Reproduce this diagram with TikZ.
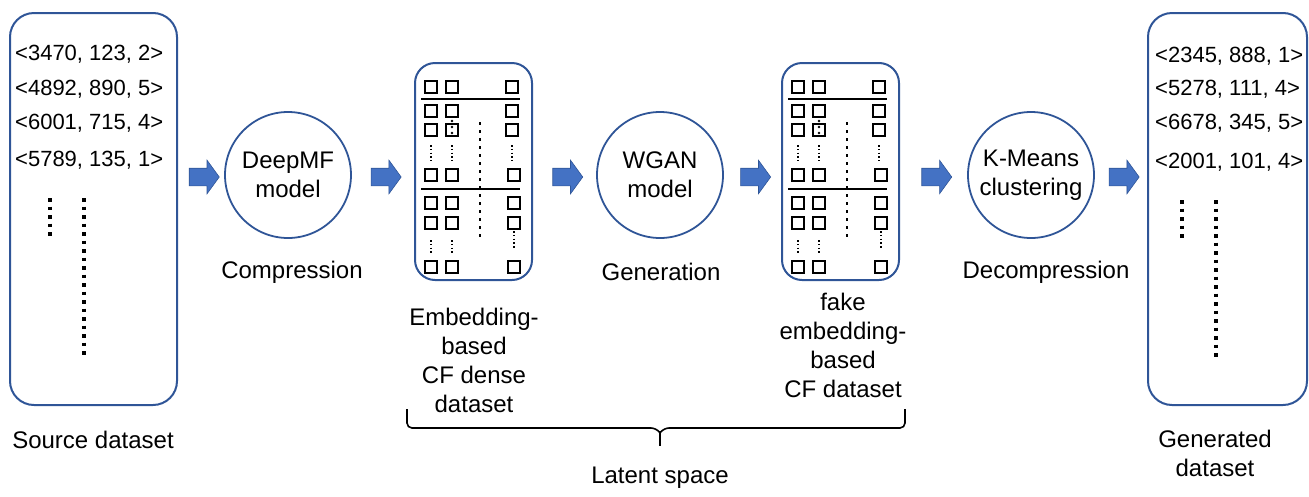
\documentclass[tikz,border=0pt]{standalone}
\usepackage{fontspec}
\setmainfont{Liberation Sans}
\usetikzlibrary{shapes.arrows,calc}
\definecolor{boxblue}{HTML}{2F5597}
\definecolor{arrblue}{HTML}{4472C4}
\tikzset{
  databox/.style={draw=boxblue, line width=2pt, rounded corners=24pt, inner sep=0pt},
  embbox/.style={draw=boxblue, line width=2pt, rounded corners=20pt, inner sep=0pt,
                 minimum width=117pt, minimum height=217pt},
  model/.style={circle, draw=boxblue, line width=1.8pt, minimum size=126pt, inner sep=0pt,
                align=center, font=\fontsize{24}{29}\selectfont},
  blockarrow/.style={single arrow, fill=arrblue, draw=boxblue, line width=0.6pt,
                minimum height=30pt, minimum width=0pt, inner xsep=0pt, inner ysep=8.5pt,
                single arrow head extend=8pt, single arrow tip angle=108},
  datatext/.style={anchor=west, inner sep=0pt, font=\fontsize{22}{26}\selectfont},
  lbl/.style={align=center, inner sep=0pt, font=\fontsize{24}{29}\selectfont},
  bigdots/.style={line width=3.5pt, dash pattern=on 3.5pt off 5pt},
  middots/.style={line width=2.8pt, dash pattern=on 2.8pt off 5.2pt},
  tinydots/.style={line width=1.5pt, dash pattern=on 1.5pt off 2.3pt},
  sqstyle/.style={draw=black, line width=1.7pt},
  hsep/.style={draw=black, line width=1.7pt}
}
\newcommand\mysq[2]{\draw[sqstyle] (#1,#2) ++(-6,-6) rectangle ++(12,12);}
\newcommand\embgrid[1]{%
  \begin{scope}[shift={(#1)}]
    \mysq{16}{24}\mysq{37}{24}\mysq{97}{24}
    \draw[hsep] (6,36) -- (105,36);
    \mysq{16}{48}\mysq{37}{48}\mysq{97}{48}
    \mysq{16}{67}\mysq{37}{67}\mysq{97}{67}
    \fill (37,58) circle (1.4pt);
    \fill (37,64) circle (1.3pt);
    \fill (37,70) circle (1.3pt);
    \draw[tinydots] (16,82) -- (16,98);
    \draw[tinydots] (37,82) -- (37,98);
    \draw[tinydots] (97,82) -- (97,98);
    \mysq{16}{112}\mysq{37}{112}\mysq{99}{112}
    \draw[hsep] (6,126) -- (105,126);
    \mysq{16}{140}\mysq{37}{140}\mysq{99}{140}
    \mysq{16}{160}\mysq{37}{160}\mysq{99}{160}
    \draw[tinydots] (16,177) -- (16,191);
    \draw[tinydots] (37,177) -- (37,191);
    \draw[tinydots] (99,168) -- (99,185);
    \mysq{16}{204}\mysq{37}{204}\mysq{99}{204}
    \draw[middots] (65,59) -- (65,177);
  \end{scope}}
\begin{document}
\begin{tikzpicture}[x=1pt,y=-1pt]
\useasboundingbox (0,0) rectangle (1309,496);
\coordinate (ay) at (0,177);

% source dataset
\node[databox, minimum width=167pt, minimum height=392pt] (src) at (93.5,209) {};
\node[datatext] (s1) at (15,54) {<3470, 123, 2>};
\node[datatext] (s2) at (15,89) {<4892, 890, 5>};
\node[datatext] (s3) at (15,123) {<6001, 715, 4>};
\node[datatext] (s4) at (15,160) {<5789, 135, 1>};
\draw[bigdots] (50,198) -- (50,236);
\draw[bigdots] (84,198) -- (84,358);
\node[lbl] (srclbl) at (93,440) {Source dataset};

% models
\node[model] (deepmf) at (288,175) {DeepMF\\model};
\node[lbl] (comp) at (292,272) {Compression};
\node[model] (wgan) at (660,175) {WGAN\\model};
\node[lbl] (gen) at (661,272) {Generation};
\node[model] (kmeans) at (1031,175) {K-Means\\clustering};
\node[lbl] (decomp) at (1046,272) {Decompression};

% embedding boxes
\node[embbox] (emb1) at (473.5,171.5) {};
\embgrid{415,63}
\node[lbl] (emb1lbl) at (474,360) {Embedding-\\based\\CF dense\\dataset};
\node[embbox] (emb2) at (840.5,171.5) {};
\embgrid{782,63}
\node[lbl] (emb2lbl) at (843,345) {fake\\embedding-\\based\\CF dataset};

% generated dataset
\node[databox, minimum width=159pt, minimum height=392pt] (gds) at (1227.5,209) {};
\node[datatext] (g1) at (1155,56) {<2345, 888, 1>};
\node[datatext] (g2) at (1155,89) {<5278, 111, 4>};
\node[datatext] (g3) at (1155,123) {<6678, 345, 5>};
\node[datatext] (g4) at (1155,162) {<2001, 101, 4>};
\draw[bigdots] (1182,200) -- (1182,240);
\draw[bigdots] (1216,200) -- (1216,360);
\node[lbl] (gdslbl) at (1215,453) {Generated\\dataset};

% block arrows
\path ($(src.east)!0.5!(deepmf.west)$) coordinate (m1)
      ($(deepmf.east)!0.5!(emb1.west)$) coordinate (m2)
      ($(emb1.east)!0.5!(wgan.west)$) coordinate (m3)
      ($(wgan.east)!0.5!(emb2.west)$) coordinate (m4)
      ($(emb2.east)!0.5!(kmeans.west)$) coordinate (m5)
      ($(kmeans.east)!0.5!(gds.west)$) coordinate (m6);
\node[blockarrow] (a1) at (m1 |- ay) {};
\node[blockarrow] (a2) at (m2 |- ay) {};
\node[blockarrow] (a3) at (m3 |- ay) {};
\node[blockarrow] (a4) at (m4 |- ay) {};
\node[blockarrow] (a5) at (m5 |- ay) {};
\node[blockarrow] (a6) at (m6 |- ay) {};

% brace
\draw[line width=1.6pt, rounded corners=5pt] (407,409) -- (407,428) -- (656,428) -- (660,433);
\draw[line width=1.6pt, rounded corners=5pt] (905,409) -- (905,428) -- (664,428) -- (660,433);
\draw[line width=1.6pt] (660,431) -- (660,446);
\node[lbl] (latent) at (660,478) {Latent space};
\end{tikzpicture}
\end{document}
